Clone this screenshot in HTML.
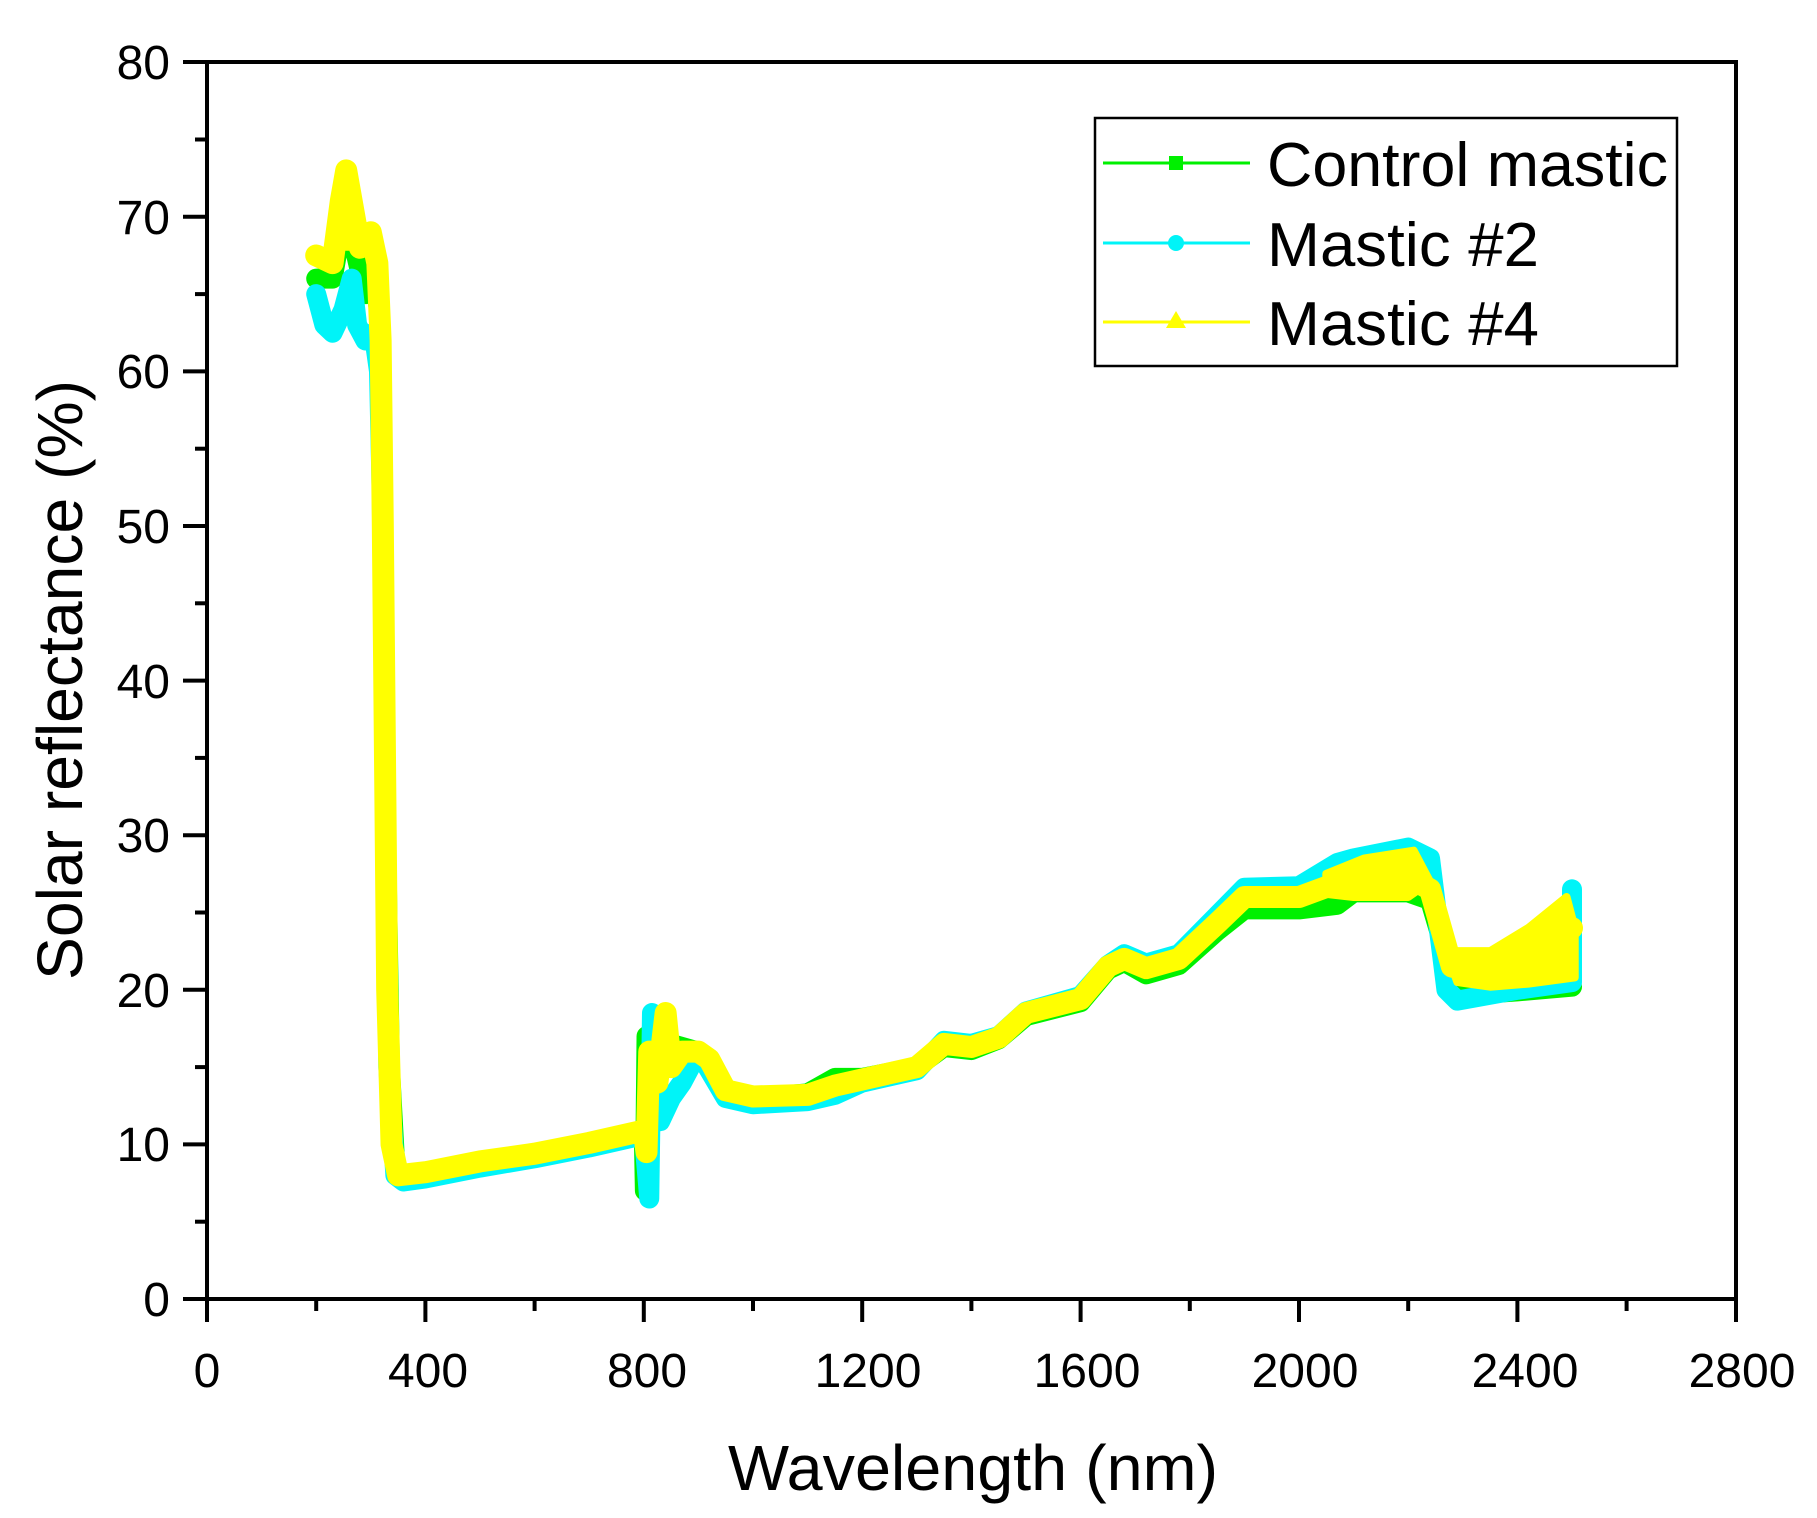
<!DOCTYPE html>
<html><head><style>
html,body{margin:0;padding:0;background:#fff;}
svg{display:block;}
text{font-family:"Liberation Sans",Arial,sans-serif;fill:#000;}
</style></head><body>
<svg width="1817" height="1518" viewBox="0 0 1817 1518" xmlns="http://www.w3.org/2000/svg">
<rect width="1817" height="1518" fill="#fff"/>
<g transform="translate(207,1299) scale(0.546,-15.46)" fill="none" stroke-linejoin="round" stroke-linecap="round">
  <!-- green -->
  <polyline vector-effect="non-scaling-stroke" stroke="#00f000" stroke-width="20" points="200,66 230,66 250,70 270,68 290,65 305,66 315,64 322,50 328,30 335,15 345,8.5 360,8 400,8 500,8.8 600,9.3 700,10 800,10.6 802,7 805,17 820,15 850,16.5 900,16 950,13.5 1000,13 1100,13.3 1150,14.3 1200,14.3 1300,15 1350,16.3 1400,16.1 1450,16.8 1500,18.3 1600,19.2 1650,21.3 1680,21.8 1720,21 1780,21.6 1850,23.8 1900,25.2 2000,25.2 2070,25.5 2100,26.3 2200,26.3 2240,25.8 2280,21 2320,19.7 2400,19.9 2500,20.2"/>
  <!-- cyan -->
  <polyline vector-effect="non-scaling-stroke" stroke="#00f4f8" stroke-width="20" points="200,65 215,63 230,62.5 250,64 265,66 275,63 290,62 305,62.5 315,60 320,52 326,35 332,15 345,8 360,7.6 400,7.8 500,8.5 600,9.1 700,9.8 800,10.6 810,6.5 815,18.5 830,11.5 850,13 870,14 900,16 950,13 1000,12.6 1100,12.8 1150,13.2 1200,14 1300,14.8 1350,16.7 1400,16.5 1450,17 1500,18.6 1600,19.6 1650,21.6 1680,22.3 1720,21.7 1780,22.3 1850,24.8 1900,26.6 2000,26.7 2070,28.2 2100,28.5 2200,29.2 2240,28.5 2270,20 2290,19.3 2400,20 2500,20.5 2500,26.5"/>
  <!-- yellow -->
  <polyline vector-effect="non-scaling-stroke" stroke="#ffff00" stroke-width="22" points="200,67.5 230,67 245,71 255,73 265,71 280,68 300,69 312,67 318,62 322,50 326,35 330,20 338,10 350,8 400,8.2 500,8.9 600,9.4 700,10.1 800,10.9 805,9.5 810,16 825,14 840,18.5 850,15 870,16 900,16 920,15.5 950,13.5 1000,13.1 1100,13.2 1150,13.8 1200,14.2 1300,15 1350,16.5 1400,16.3 1450,16.9 1500,18.5 1600,19.4 1650,21.5 1680,22 1720,21.4 1780,22 1850,24.3 1900,26 2000,26 2100,27.3 2200,27.3 2240,26.5 2280,21.5 2350,21 2400,22 2450,23 2500,24"/>
  <polygon vector-effect="non-scaling-stroke" fill="#ffff00" stroke="#ffff00" stroke-width="8" points="2270,22.5 2350,22.5 2420,24 2490,26 2505,24 2505,20.8 2420,20.4 2350,20.2 2290,20.5"/>
  <polygon vector-effect="non-scaling-stroke" fill="#ffff00" stroke="#ffff00" stroke-width="8" points="2050,27.5 2120,28.5 2210,29 2240,27 2200,26 2100,26 2050,26.2"/>
  <polygon vector-effect="non-scaling-stroke" fill="#ffff00" stroke="#ffff00" stroke-width="6" points="240,72 255,73.5 268,71 260,68 245,68"/>
  <polyline vector-effect="non-scaling-stroke" stroke="#ffff00" stroke-width="8" points="322,66 322,50 326,30 328,14"/>
</g>
<!-- axes -->
<rect x="207" y="62" width="1529" height="1237" fill="none" stroke="#000" stroke-width="4"/>
<g stroke="#000" stroke-width="4">
  <line x1="207" y1="1299" x2="207" y2="1322"/><line x1="425.4" y1="1299" x2="425.4" y2="1322"/>
  <line x1="643.8" y1="1299" x2="643.8" y2="1322"/><line x1="862.2" y1="1299" x2="862.2" y2="1322"/>
  <line x1="1080.6" y1="1299" x2="1080.6" y2="1322"/><line x1="1299" y1="1299" x2="1299" y2="1322"/>
  <line x1="1517.4" y1="1299" x2="1517.4" y2="1322"/><line x1="1736" y1="1299" x2="1736" y2="1322"/>
  <line x1="316.2" y1="1299" x2="316.2" y2="1311"/><line x1="534.6" y1="1299" x2="534.6" y2="1311"/>
  <line x1="753" y1="1299" x2="753" y2="1311"/><line x1="971.4" y1="1299" x2="971.4" y2="1311"/>
  <line x1="1189.8" y1="1299" x2="1189.8" y2="1311"/><line x1="1408.2" y1="1299" x2="1408.2" y2="1311"/>
  <line x1="1626.6" y1="1299" x2="1626.6" y2="1311"/>
  <line x1="183" y1="1299" x2="207" y2="1299"/><line x1="183" y1="1144.4" x2="207" y2="1144.4"/>
  <line x1="183" y1="989.8" x2="207" y2="989.8"/><line x1="183" y1="835.2" x2="207" y2="835.2"/>
  <line x1="183" y1="680.6" x2="207" y2="680.6"/><line x1="183" y1="526" x2="207" y2="526"/>
  <line x1="183" y1="371.4" x2="207" y2="371.4"/><line x1="183" y1="216.8" x2="207" y2="216.8"/>
  <line x1="183" y1="62" x2="207" y2="62"/>
  <line x1="195" y1="1221.7" x2="207" y2="1221.7"/><line x1="195" y1="1067.1" x2="207" y2="1067.1"/>
  <line x1="195" y1="912.5" x2="207" y2="912.5"/><line x1="195" y1="757.9" x2="207" y2="757.9"/>
  <line x1="195" y1="603.3" x2="207" y2="603.3"/><line x1="195" y1="448.7" x2="207" y2="448.7"/>
  <line x1="195" y1="294.1" x2="207" y2="294.1"/><line x1="195" y1="139.5" x2="207" y2="139.5"/>
</g>
<g font-size="48" text-anchor="end">
  <text x="170" y="1316">0</text><text x="170" y="1161">10</text><text x="170" y="1007">20</text>
  <text x="170" y="852">30</text><text x="170" y="698">40</text><text x="170" y="543">50</text>
  <text x="170" y="388">60</text><text x="170" y="234">70</text><text x="170" y="79">80</text>
</g>
<g font-size="48" text-anchor="middle">
  <text x="207" y="1387">0</text><text x="428" y="1387">400</text><text x="647" y="1387">800</text>
  <text x="868" y="1387">1200</text><text x="1087" y="1387">1600</text><text x="1305" y="1387">2000</text>
  <text x="1525" y="1387">2400</text><text x="1742" y="1387">2800</text>
</g>
<text x="973" y="1490" font-size="64" text-anchor="middle" textLength="490" lengthAdjust="spacingAndGlyphs">Wavelength (nm)</text>
<text transform="translate(82,680) rotate(-90)" font-size="64" text-anchor="middle" textLength="600" lengthAdjust="spacingAndGlyphs">Solar reflectance (%)</text>
<!-- legend -->
<rect x="1095" y="118" width="582" height="248" fill="#fff" stroke="#000" stroke-width="2.5"/>
<line x1="1103" y1="163" x2="1250" y2="163" stroke="#00f000" stroke-width="3"/>
<rect x="1169" y="156" width="14" height="14" fill="#00f000"/>
<line x1="1103" y1="243" x2="1250" y2="243" stroke="#00f4f8" stroke-width="3"/>
<circle cx="1176" cy="243" r="8" fill="#00f4f8"/>
<line x1="1103" y1="322" x2="1250" y2="322" stroke="#ffff00" stroke-width="3"/>
<polygon points="1176,311 1186,328 1166,328" fill="#ffff00"/>
<g font-size="62">
  <text x="1267" y="186" textLength="401" lengthAdjust="spacingAndGlyphs">Control mastic</text>
  <text x="1267" y="266" textLength="272" lengthAdjust="spacingAndGlyphs">Mastic #2</text>
  <text x="1267" y="345" textLength="272" lengthAdjust="spacingAndGlyphs">Mastic #4</text>
</g>
</svg>
</body></html>
